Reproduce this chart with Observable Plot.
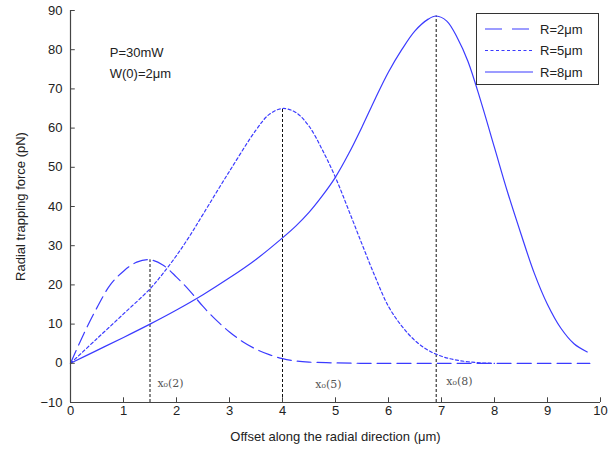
<!DOCTYPE html>
<html>
<head>
<meta charset="utf-8">
<script src="https://cdn.jsdelivr.net/npm/d3@7"></script>
<script src="https://cdn.jsdelivr.net/npm/@observablehq/plot@0.6"></script>
<style>
  html, body { margin: 0; padding: 0; background: #fff; }
  #wrap { position: relative; width: 616px; height: 450px; font-family: "Liberation Sans", Arial, sans-serif; }
  #legend { position: absolute; left: 476px; top: 13px; width: 123px; height: 72px; border: 1px solid #333; background: #fff; box-sizing: border-box; }
</style>
</head>
<body>
<div id="wrap"><div id="legend"></div></div>
<script>
// Series data
const seriesNames = ["R=2\u03bcm", "R=5\u03bcm", "R=8\u03bcm"];
const seriesDash = ["14,6", "3,2.5", null];

const r2X = [0, 0.25, 0.5, 0.75, 1, 1.25, 1.5, 1.75, 2, 2.25, 2.5, 2.75, 3, 3.25, 3.5, 3.75, 4, 4.25, 4.5, 5, 5.5, 6, 7, 8, 9, 9.8];
const r2Y = [0, 7.5, 14.2, 20, 23.5, 25.8, 26.4, 25, 22, 18.5, 14.5, 11, 8, 5.5, 3.6, 2.2, 1.2, 0.6, 0.3, 0.1, 0, 0, 0, 0, 0, 0];

const r5X = [0, 0.5, 1, 1.5, 1.75, 2, 2.25, 2.5, 3, 3.5, 3.75, 4, 4.25, 4.5, 4.75, 5, 5.25, 5.5, 5.75, 6, 6.25, 6.5, 6.75, 7, 7.25, 7.5, 7.75, 8];
const r5Y = [0, 6.3, 12.6, 19, 23, 27.5, 32.5, 38, 49, 59.5, 63.5, 65, 64, 60.5, 54.5, 47.4, 39, 30.4, 22, 14.5, 9.5, 5.8, 3.3, 1.8, 0.9, 0.4, 0.1, 0];

const r8X = [0, 0.5, 1, 1.5, 2, 2.5, 3, 3.5, 4, 4.25, 4.5, 4.75, 5, 5.25, 5.5, 5.75, 6, 6.25, 6.5, 6.75, 6.9, 7.1, 7.3, 7.5, 7.75, 8, 8.25, 8.5, 8.75, 9, 9.25, 9.5, 9.75];
const r8Y = [0, 3.3, 6.6, 10, 13.6, 17.5, 21.8, 26.5, 32, 35, 38.5, 42.7, 47.5, 53.5, 60.3, 67.5, 74.3, 80, 84.8, 87.8, 88.6, 87.3, 83, 77, 66.5, 55, 43.5, 33, 23, 15, 9, 5, 2.9];

// Peak markers (x0 positions) and their labels
const peakX = [1.5, 4.0, 6.9];
const peakY = [26.4, 65, 88.6];
const peakLabels = ["x\u2080(2)", "x\u2080(5)", "x\u2080(8)"];
const peakLabelX = [1.64, 4.62, 7.09];
const peakLabelY = [-5.1, -5.5, -4.7];

// Parameter note
const noteLines = ["P=30mW", "W(0)=2\u03bcm"];
const noteX = [0.74, 0.74];
const noteY = [79.2, 73.8];

// Axis ticks
const xTicks = [0, 1, 2, 3, 4, 5, 6, 7, 8, 9, 10];
const yTicks = [-10, 0, 10, 20, 30, 40, 50, 60, 70, 80, 90];

const color = "#3b3bff";
const toRows = (xs, ys) => xs.map((x, i) => ({x, y: ys[i]}));
const series = [toRows(r2X, r2Y), toRows(r5X, r5Y), toRows(r8X, r8Y)];
const peaks = peakX.map((x, i) => ({x, y: peakY[i]}));
const peakText = peakLabels.map((t, i) => ({t, x: peakLabelX[i], y: peakLabelY[i]}));
const notes = noteLines.map((t, i) => ({t, x: noteX[i], y: noteY[i]}));

const chart = Plot.plot({
  width: 616,
  height: 450,
  marginLeft: 70,
  marginRight: 16,
  marginTop: 10,
  marginBottom: 48,
  style: {fontFamily: "'Liberation Sans', Arial, sans-serif", fontSize: "13px", color: "#222", background: "#fff"},
  x: {domain: [0, 10]},
  y: {domain: [-10, 90]},
  marks: [
    // vertical dashed peak markers
    Plot.ruleX(peaks, {x: "x", y1: -10, y2: "y", stroke: "#111", strokeWidth: 1, strokeDasharray: "3,2"}),
    // curves
    ...series.map((d, i) => Plot.line(d, {x: "x", y: "y", stroke: color, strokeWidth: 1.2, curve: "catmull-rom", strokeDasharray: seriesDash[i] || undefined})),
    // peak labels
    Plot.text(peakText, {x: "x", y: "y", text: "t", textAnchor: "start", fontFamily: "'DejaVu Serif', 'Liberation Serif', serif", fontSize: 11, fill: "#555"}),
    // note
    Plot.text(notes, {x: "x", y: "y", text: "t", textAnchor: "start", fontSize: 13, fill: "#222"}),
    // axes lines
    Plot.ruleX([0], {y1: -10, y2: 90, stroke: "#444", strokeWidth: 1.2}),
    Plot.ruleY([-10], {x1: 0, x2: 10, stroke: "#444", strokeWidth: 1.2}),
    // inward ticks
    Plot.ruleY(yTicks, {x1: 0, x2: 0.09, stroke: "#444"}),
    Plot.ruleX(xTicks, {y1: -10, y2: -8.8, stroke: "#444"}),
    Plot.axisX(xTicks, {tickSize: 0, tickPadding: 3, fontSize: 13, label: "Offset along the radial direction (\u03bcm)", labelAnchor: "center", labelOffset: 38, labelArrow: "none"}),
    Plot.axisY(yTicks, {tickSize: 0, tickPadding: 8, fontSize: 13, label: "Radial trapping force (pN)", labelAnchor: "center", labelOffset: 55, labelArrow: "none"})
  ]
});
document.getElementById("wrap").prepend(chart);

// Legend (HTML overlay with swatches built from the series arrays)
const ns = "http://www.w3.org/2000/svg";
const lg = document.createElementNS(ns, "svg");
lg.setAttribute("width", 121);
lg.setAttribute("height", 70);
seriesNames.forEach((name, i) => {
  const yy = 15 + i * 21.5;
  const ln = document.createElementNS(ns, "line");
  ln.setAttribute("x1", 8); ln.setAttribute("x2", 56);
  ln.setAttribute("y1", yy); ln.setAttribute("y2", yy);
  ln.setAttribute("stroke", color); ln.setAttribute("stroke-width", 1.2);
  if (seriesDash[i]) ln.setAttribute("stroke-dasharray", i === 0 ? "17,10" : seriesDash[i]);
  lg.appendChild(ln);
  const tx = document.createElementNS(ns, "text");
  tx.setAttribute("x", 63); tx.setAttribute("y", yy);
  tx.setAttribute("dy", "0.35em");
  tx.setAttribute("font-size", 13);
  tx.setAttribute("fill", "#222");
  tx.setAttribute("font-family", "'Liberation Sans', Arial, sans-serif");
  tx.textContent = name;
  lg.appendChild(tx);
});
document.getElementById("legend").appendChild(lg);
</script>
</body>
</html>
